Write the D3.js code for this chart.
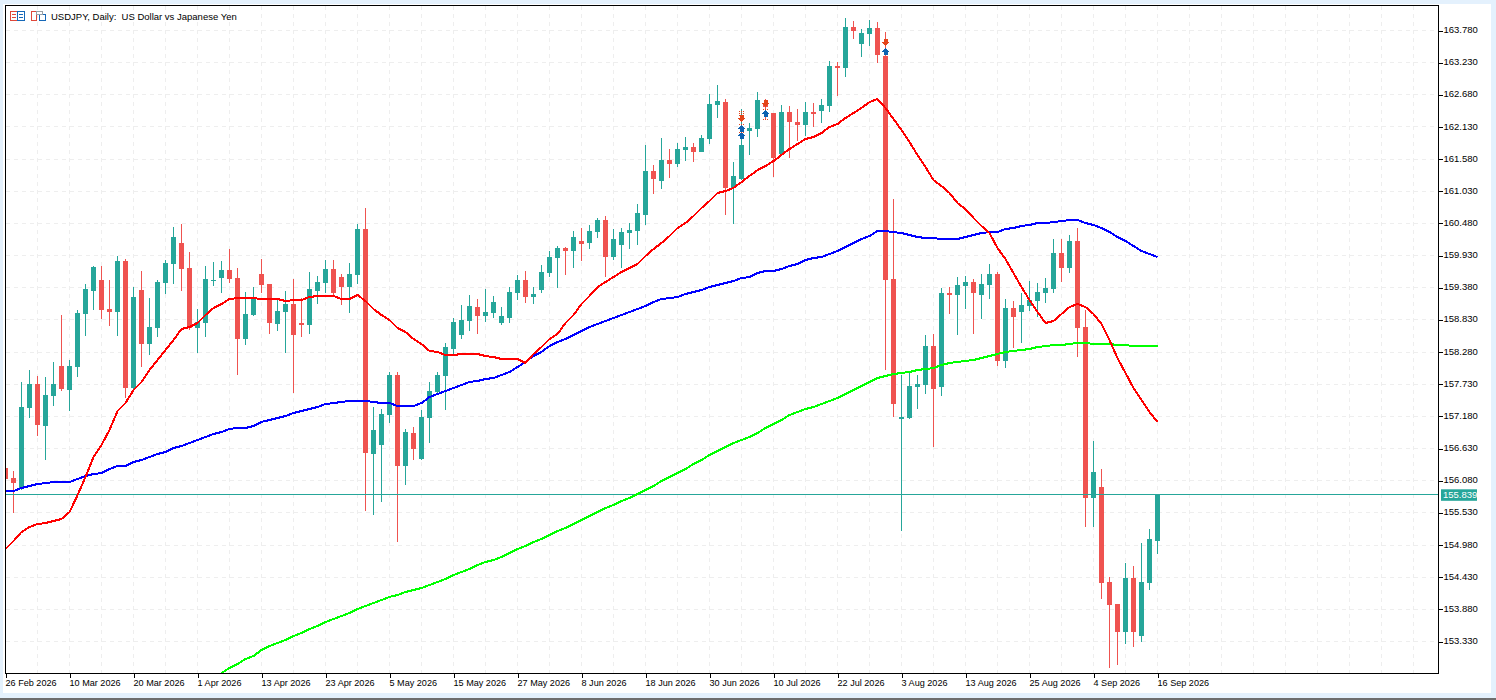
<!DOCTYPE html>
<html>
<head>
<meta charset="utf-8">
<title>USDJPY, Daily</title>
<script src="https://cdn.jsdelivr.net/npm/d3@7"></script>
<style>
  html, body { margin: 0; padding: 0; background: #e4f1fd; overflow: hidden; }
  svg { display: block; }
  text { font-family: "Liberation Sans", Arial, sans-serif; font-size: 9.5px; fill: #000; }
  .tick line { stroke: #000; shape-rendering: crispEdges; }
  .domain { display: none; }
</style>
</head>
<body>
<div id="chart"></div>
<script>
// daily bars, oldest first
var opens = [
  156.306,156.135,155.964,157.332,157.742,157.024,157.537,158.050,157.640,158.033,
  158.940,159.333,159.521,159.025,158.974,159.846,157.674,159.350,158.427,158.700,
  159.470,159.795,160.154,159.726,158.700,158.786,159.504,159.555,159.692,159.555,
  158.512,158.923,159.624,159.453,158.769,158.974,159.111,158.786,158.752,159.333,
  159.470,159.709,159.572,159.401,159.607,160.393,156.545,156.699,157.212,157.896,
  156.340,156.904,156.460,157.161,157.606,157.879,158.341,158.580,158.820,159.059,
  158.905,158.957,158.786,158.871,159.299,159.521,159.230,159.350,159.641,159.897,
  160.068,160.017,160.188,160.154,160.342,160.547,159.915,160.120,160.325,160.359,
  160.633,161.385,161.214,161.574,161.505,161.745,161.796,161.710,161.933,162.514,
  162.565,161.095,161.249,162.069,162.104,162.531,162.377,161.676,162.394,162.223,
  162.172,162.394,162.412,162.497,163.181,163.147,163.848,163.557,163.728,163.831,
  163.352,159.538,157.144,157.161,157.691,157.725,158.392,157.691,159.299,159.265,
  159.419,159.487,159.265,159.436,159.624,158.136,159.042,158.974,159.076,159.162,
  159.299,159.367,159.983,159.726,160.188,158.717,155.793,155.981,154.356,153.980,
  153.501,154.424,153.432,154.339,155.057
];
var highs = [
  156.306,156.254,157.777,157.982,157.879,157.862,158.119,158.923,158.153,159.008,
  159.453,159.761,159.761,159.521,159.932,159.880,159.401,159.675,159.213,159.521,
  159.863,160.428,160.479,160.000,159.025,159.761,159.829,159.846,160.051,159.726,
  159.316,159.401,159.880,159.453,159.196,159.333,159.538,159.213,159.658,159.590,
  159.863,159.863,159.624,159.812,160.479,160.753,157.349,157.315,157.948,157.948,
  156.973,157.007,157.298,157.777,157.948,158.444,158.871,159.094,159.265,159.196,
  159.367,159.248,159.059,159.401,159.607,159.675,159.401,159.778,160.017,160.103,
  160.086,160.359,160.411,160.462,160.582,160.616,160.393,160.411,160.496,160.821,
  161.830,161.488,161.950,161.762,161.864,161.967,161.864,162.001,162.702,162.856,
  162.617,161.539,162.446,162.206,162.737,162.617,162.377,162.514,162.497,162.446,
  162.565,162.548,162.617,163.267,163.250,164.002,163.951,163.814,163.968,163.934,
  163.763,160.907,157.896,157.948,157.896,158.580,158.598,159.384,159.401,159.572,
  159.590,159.538,159.624,159.795,159.658,159.196,159.162,159.299,159.504,159.470,
  159.555,160.222,160.222,160.291,160.411,159.008,156.768,156.289,154.442,153.980,
  154.681,154.630,155.023,155.263,155.839
];
var lows = [
  156.118,155.536,155.930,157.161,156.853,156.443,157.366,157.623,157.281,157.862,
  158.563,159.008,158.854,158.734,158.563,157.503,157.640,158.033,158.238,158.546,
  159.282,159.453,159.333,158.666,158.273,158.546,159.419,159.299,159.470,157.896,
  158.409,158.905,159.299,158.598,158.649,158.273,157.589,158.546,158.598,159.111,
  159.299,159.248,159.094,158.957,159.453,155.570,155.502,155.724,157.075,155.040,
  156.015,156.443,156.443,156.733,157.589,157.298,158.256,158.512,158.649,158.598,
  158.803,158.871,158.752,158.786,159.179,159.128,159.111,159.299,159.572,159.384,
  159.607,159.726,159.846,160.051,160.239,159.572,159.863,159.726,160.051,160.120,
  160.462,160.992,161.078,161.266,161.454,161.556,161.539,161.710,161.847,162.292,
  160.633,160.479,161.231,161.659,161.967,162.258,161.283,161.659,161.608,161.898,
  161.984,162.138,162.206,162.394,162.668,162.993,163.643,163.335,163.523,163.233,
  157.982,157.178,155.228,157.144,157.315,157.571,156.665,157.537,158.940,158.580,
  159.025,158.598,158.854,159.196,158.050,158.016,158.358,158.444,158.991,158.888,
  159.128,159.299,159.487,159.641,158.204,155.297,155.297,154.065,152.885,152.936,
  153.296,153.244,153.330,154.219,154.835
];
var closes = [
  156.118,156.049,157.349,157.742,157.041,157.554,157.742,157.657,158.050,158.957,
  159.367,159.744,159.008,158.974,159.846,157.674,159.230,158.427,158.717,159.487,
  159.812,160.257,159.709,158.700,158.803,159.538,159.521,159.692,159.538,158.512,
  158.940,159.196,159.436,158.786,158.991,159.111,158.580,158.752,159.367,159.487,
  159.709,159.299,159.401,159.624,160.393,156.562,156.956,157.229,157.896,156.340,
  156.922,156.631,157.178,157.623,157.896,158.375,158.803,158.837,159.076,158.905,
  158.974,159.145,158.905,159.316,159.521,159.230,159.282,159.658,159.915,160.068,
  160.017,160.257,160.137,160.359,160.547,159.915,160.222,160.342,160.376,160.667,
  161.385,161.249,161.574,161.505,161.762,161.796,161.710,161.950,162.531,162.583,
  161.095,161.300,161.830,162.121,162.600,162.480,161.608,162.394,162.223,162.172,
  162.394,162.360,162.514,163.181,163.147,163.848,163.780,163.746,163.831,163.369,
  159.521,157.400,157.178,157.708,157.742,158.392,157.657,159.299,159.265,159.436,
  159.487,159.299,159.453,159.624,158.136,159.042,158.888,159.094,159.179,159.316,
  159.384,159.983,159.726,160.188,158.700,155.793,156.237,154.339,153.963,153.501,
  154.424,153.501,154.356,155.091,155.839
];

// moving averages, one value per bar
var redLine = [
  154.920,155.057,155.211,155.297,155.348,155.365,155.399,155.434,155.553,155.839,
  156.152,156.494,156.699,156.956,157.281,157.417,157.640,157.777,157.982,158.153,
  158.324,158.495,158.683,158.717,158.786,158.923,159.042,159.111,159.196,159.213,
  159.213,159.213,159.196,159.196,159.196,159.162,159.179,159.179,159.230,159.248,
  159.248,159.248,159.196,159.196,159.265,159.162,159.025,158.923,158.837,158.700,
  158.632,158.512,158.427,158.307,158.290,158.238,158.238,158.256,158.256,158.256,
  158.221,158.204,158.170,158.170,158.170,158.102,158.256,158.375,158.512,158.598,
  158.786,158.923,159.111,159.248,159.401,159.487,159.572,159.658,159.726,159.795,
  159.932,160.051,160.154,160.274,160.411,160.496,160.616,160.753,160.872,161.009,
  161.043,161.095,161.197,161.300,161.402,161.471,161.556,161.659,161.762,161.847,
  161.933,161.967,162.035,162.138,162.189,162.292,162.377,162.463,162.565,162.617,
  162.463,162.275,162.087,161.881,161.659,161.454,161.231,161.129,161.009,160.838,
  160.735,160.582,160.445,160.325,160.068,159.880,159.641,159.401,159.179,158.974,
  158.786,158.820,158.940,159.059,159.111,159.059,158.940,158.769,158.495,158.187,
  157.931,157.674,157.469,157.264,157.093
];
var blueLine = [
  155.912,155.912,155.964,155.998,156.032,156.049,156.066,156.066,156.066,156.118,
  156.169,156.203,156.220,156.289,156.340,156.340,156.408,156.443,156.494,156.545,
  156.579,156.648,156.682,156.733,156.785,156.836,156.887,156.922,156.973,156.990,
  156.990,157.024,157.093,157.127,157.161,157.195,157.246,157.281,157.315,157.349,
  157.400,157.417,157.435,157.452,157.452,157.452,157.435,157.417,157.417,157.366,
  157.366,157.366,157.417,157.520,157.571,157.623,157.674,157.725,157.777,157.794,
  157.828,157.845,157.896,157.948,158.033,158.119,158.221,158.290,158.392,158.461,
  158.512,158.580,158.649,158.717,158.769,158.820,158.871,158.923,158.974,159.025,
  159.076,159.145,159.196,159.213,159.230,159.282,159.316,159.350,159.401,159.436,
  159.470,159.504,159.555,159.572,159.641,159.675,159.675,159.709,159.761,159.795,
  159.863,159.897,159.915,159.966,160.017,160.086,160.154,160.222,160.274,160.359,
  160.359,160.342,160.325,160.291,160.257,160.239,160.239,160.222,160.222,160.222,
  160.257,160.291,160.325,160.342,160.342,160.393,160.411,160.445,160.462,160.496,
  160.496,160.513,160.530,160.547,160.547,160.496,160.462,160.411,160.342,160.257,
  160.188,160.103,160.017,159.966,159.915
];
// the green average only enters the price window at bar 27
var greenStart = 27;
var greenLine = [
  152.800,152.885,152.954,153.039,153.090,153.193,153.261,153.313,153.364,153.432,
  153.484,153.552,153.604,153.672,153.723,153.775,153.826,153.894,153.946,153.997,
  154.048,154.100,154.134,154.185,154.219,154.253,154.305,154.356,154.407,154.476,
  154.527,154.578,154.647,154.698,154.732,154.784,154.852,154.920,154.972,155.040,
  155.091,155.160,155.228,155.280,155.348,155.416,155.485,155.553,155.622,155.673,
  155.741,155.793,155.861,155.930,155.998,156.083,156.152,156.220,156.289,156.374,
  156.443,156.528,156.597,156.665,156.733,156.785,156.836,156.904,156.990,157.058,
  157.127,157.212,157.264,157.315,157.349,157.400,157.452,157.503,157.571,157.640,
  157.708,157.777,157.845,157.879,157.913,157.931,157.948,157.982,157.999,158.016,
  158.067,158.102,158.119,158.136,158.153,158.187,158.221,158.256,158.290,158.307,
  158.324,158.341,158.375,158.392,158.409,158.409,158.427,158.444,158.444,158.427,
  158.427,158.427,158.409,158.409,158.392,158.392,158.392,158.392
];

// trade arrows and their small level marks: bar, price
var sellBars = [92, 95, 110];
var sellPrices = [162.275, 162.540, 163.575];
var buyBars = [92, 92, 95, 110];
var buyPrices = [162.112, 162.001, 162.369, 163.421];
var markBars = [92, 92, 92, 92, 92, 95, 95];
var markPrices = [162.412, 162.377, 162.343, 162.189, 162.053, 162.446, 162.275];

var priceTicks = [163.78, 163.23, 162.68, 162.13, 161.58, 161.03, 160.48, 159.93, 159.38, 158.83,
  158.28, 157.73, 157.18, 156.63, 156.08, 155.53, 154.98, 154.43, 153.88, 153.33];
var dateTicks = ['26 Feb 2026', '10 Mar 2026', '20 Mar 2026', '1 Apr 2026', '13 Apr 2026', '23 Apr 2026',
  '5 May 2026', '15 May 2026', '27 May 2026', '8 Jun 2026', '18 Jun 2026', '30 Jun 2026', '10 Jul 2026',
  '22 Jul 2026', '3 Aug 2026', '13 Aug 2026', '25 Aug 2026', '4 Sep 2026', '16 Sep 2026'];
var lastPrice = 155.839;
var titleText = 'USDJPY, Daily:  US Dollar vs Japanese Yen';

var upColor = '#26a69a';
var downColor = '#ef5350';

(function (d3) {
  var width = 1496;
  var height = 700;
  var left = 5.5, right = 1438.5, top = 5.5, bottom = 673.5;

  var svg = d3.select('#chart').append('svg')
    .attr('width', width)
    .attr('height', height);

  // window chrome
  svg.append('rect').attr('x', 3).attr('y', 4).attr('width', 1488).attr('height', 689).attr('fill', '#fff');
  svg.append('rect').attr('x', 0).attr('y', 698).attr('width', width).attr('height', 2).attr('fill', '#6e6e6e');

  svg.append('clipPath').attr('id', 'plot')
    .append('rect')
    .attr('x', left).attr('y', top)
    .attr('width', right - left).attr('height', bottom - top);

  // one bar every 8px, with room to the right of the last bar
  var x = d3.scaleLinear().domain([0, 179]).range([5.5, 1437.5]);
  var y = d3.scaleLinear().domain([163.78, 153.33]).range([31, 642]);

  var bars = opens.map(function (o, i) {
    return { i: i, o: o, h: highs[i], l: lows[i], c: closes[i] };
  });

  var plot = svg.append('g').attr('clip-path', 'url(#plot)');

  // grid
  var gridBars = d3.range(4, 180, 4);
  plot.append('g').selectAll('line')
    .data(gridBars)
    .enter().append('line')
    .attr('x1', function (d) { return x(d); })
    .attr('x2', function (d) { return x(d); })
    .attr('y1', top)
    .attr('y2', bottom);
  plot.append('g').selectAll('line')
    .data(priceTicks)
    .enter().append('line')
    .attr('x1', left)
    .attr('x2', right)
    .attr('y1', function (d) { return Math.round(y(d)) - 0.5; })
    .attr('y2', function (d) { return Math.round(y(d)) - 0.5; });
  plot.selectAll('g line')
    .attr('stroke', '#eeeeee')
    .attr('stroke-dasharray', '4,4')
    .attr('shape-rendering', 'crispEdges');

  // candles
  var candles = plot.append('g').attr('shape-rendering', 'crispEdges');
  candles.selectAll('.wick')
    .data(bars)
    .enter().append('line')
    .attr('class', 'wick')
    .attr('x1', function (d) { return x(d.i); })
    .attr('x2', function (d) { return x(d.i); })
    .attr('y1', function (d) { return y(d.h); })
    .attr('y2', function (d) { return y(d.l); })
    .attr('stroke', function (d) { return d.c >= d.o ? upColor : downColor; });
  candles.selectAll('.body')
    .data(bars)
    .enter().append('rect')
    .attr('class', 'body')
    .attr('x', function (d) { return x(d.i) - 2.5; })
    .attr('width', 5)
    .attr('y', function (d) { return y(Math.max(d.o, d.c)); })
    .attr('height', function (d) { return Math.max(1, y(Math.min(d.o, d.c)) - y(Math.max(d.o, d.c))); })
    .attr('fill', function (d) { return d.c >= d.o ? upColor : downColor; });

  // last price line
  plot.append('line')
    .attr('x1', left).attr('x2', right)
    .attr('y1', Math.round(y(lastPrice)) - 0.5).attr('y2', Math.round(y(lastPrice)) - 0.5)
    .attr('stroke', upColor)
    .attr('shape-rendering', 'crispEdges');

  // moving averages
  var line = d3.line()
    .x(function (d) { return x(d[0]); })
    .y(function (d) { return y(d[1]); });

  function drawAverage(values, start, color) {
    plot.append('path')
      .datum(values.map(function (v, i) { return [i + start, v]; }))
      .attr('d', line)
      .attr('fill', 'none')
      .attr('stroke', color)
      .attr('stroke-width', 2)
      .attr('stroke-linejoin', 'round')
      .attr('shape-rendering', 'crispEdges');
  }
  drawAverage(greenLine, greenStart, '#00ff00');
  drawAverage(blueLine, 0, '#0000ff');
  drawAverage(redLine, 0, '#ff0000');

  // trade arrows
  var sellArrow = 'M-2,-3.5H2V-0.5H4L0,3.5L-4,-0.5H-2Z';
  var buyArrow = 'M-2,3.5H2V0.5H4L0,-3.5L-4,0.5H-2Z';

  function drawArrows(barList, prices, path, color) {
    plot.append('g').selectAll('path')
      .data(barList)
      .enter().append('path')
      .attr('d', path)
      .attr('fill', color)
      .attr('shape-rendering', 'crispEdges')
      .attr('transform', function (d, i) { return 'translate(' + x(d) + ',' + y(prices[i]) + ')'; });
  }
  drawArrows(sellBars, sellPrices, sellArrow, '#e4451a');
  drawArrows(buyBars, buyPrices, buyArrow, '#0d62b0');

  plot.append('g').selectAll('line')
    .data(markBars)
    .enter().append('line')
    .attr('x1', function (d) { return x(d) - 3; })
    .attr('x2', function (d) { return x(d) + 3; })
    .attr('y1', function (d, i) { return Math.round(y(markPrices[i])) + 0.5; })
    .attr('y2', function (d, i) { return Math.round(y(markPrices[i])) + 0.5; })
    .attr('stroke', '#e4451a')
    .attr('stroke-dasharray', '1,1')
    .attr('shape-rendering', 'crispEdges');

  // frame
  svg.append('rect')
    .attr('x', left).attr('y', top)
    .attr('width', right - left).attr('height', bottom - top)
    .attr('fill', 'none')
    .attr('stroke', '#000')
    .attr('shape-rendering', 'crispEdges');

  // axes
  var yAxis = d3.axisRight(y)
    .tickValues(priceTicks)
    .tickSize(4)
    .tickPadding(1)
    .tickFormat(d3.format('.3f'));
  svg.append('g')
    .attr('transform', 'translate(' + right + ',-0.5)')
    .call(yAxis)
    .selectAll('text')
    .attr('y', -1);

  var xAxis = d3.axisBottom(x)
    .tickValues(dateTicks.map(function (d, i) { return i * 8; }))
    .tickSize(4)
    .tickPadding(2)
    .tickFormat(function (d) { return dateTicks[d / 8]; });
  svg.append('g')
    .attr('transform', 'translate(0,' + bottom + ')')
    .call(xAxis)
    .selectAll('text')
    .attr('text-anchor', 'start')
    .attr('x', -0.5)
    .style('font-size', '9.1px');

  // last price tag
  var tag = svg.append('g').attr('transform', 'translate(1441,' + y(lastPrice) + ')');
  tag.append('rect').attr('x', 0).attr('y', -6).attr('width', 36).attr('height', 11.5).attr('fill', upColor);
  tag.append('text').attr('x', 2).attr('y', 3).style('fill', '#fff').text(d3.format('.3f')(lastPrice));

  // title and the two small header icons
  svg.append('text')
    .attr('x', 51)
    .attr('y', 20)
    .attr('xml:space', 'preserve')
    .style('white-space', 'pre')
    .text(titleText);

  var icons = svg.append('g').attr('fill', 'none').attr('shape-rendering', 'crispEdges');
  icons.append('rect').attr('x', 10.5).attr('y', 11.5).attr('width', 7).attr('height', 9).attr('stroke', '#e0483a');
  icons.append('rect').attr('x', 17.5).attr('y', 11.5).attr('width', 7).attr('height', 9).attr('stroke', '#1668b8');
  [14.5, 17.5].forEach(function (ly) {
    icons.append('line').attr('x1', 12).attr('x2', 16).attr('y1', ly).attr('y2', ly).attr('stroke', '#e0483a');
    icons.append('line').attr('x1', 19).attr('x2', 23).attr('y1', ly).attr('y2', ly).attr('stroke', '#1668b8');
  });
  icons.append('path').attr('d', 'M31.5,11.5H36.5V20.5H31.5Z').attr('stroke', '#e0483a');
  icons.append('path').attr('d', 'M39.5,14.5H45.5V20.5H39.5Z').attr('stroke', '#1668b8');
  icons.append('rect').attr('x', 36.5).attr('y', 11.5).attr('width', 6).attr('height', 3).attr('stroke', '#9aa0a6');
})(window.d3);
</script>
</body>
</html>
